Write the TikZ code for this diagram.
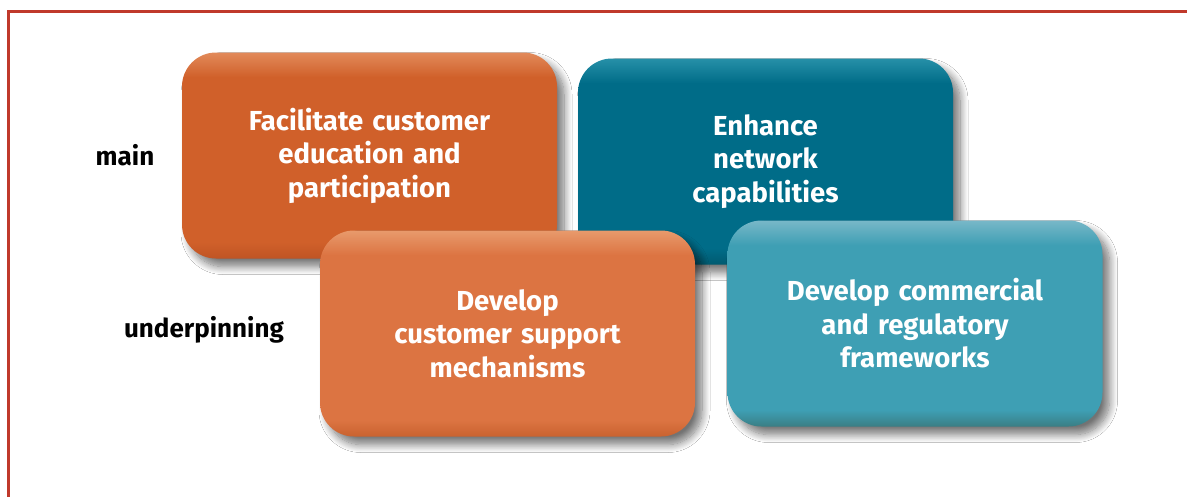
\documentclass[tikz,border=0pt]{standalone}
\usepackage{fontspec}
\setmainfont{Fira Sans}
\usetikzlibrary{shadows.blur}
\definecolor{frame}{HTML}{C0392B}
\definecolor{orA}{HTML}{D0602A}
\definecolor{orAl}{HTML}{E28A5A}
\definecolor{orAd}{HTML}{BF5424}
\definecolor{tlA}{HTML}{006C88}
\definecolor{tlAl}{HTML}{2690A8}
\definecolor{tlAd}{HTML}{005A70}
\definecolor{orB}{HTML}{DC7442}
\definecolor{orBl}{HTML}{E89A6C}
\definecolor{orBd}{HTML}{C9622F}
\definecolor{tlB}{HTML}{3E9FB4}
\definecolor{tlBl}{HTML}{78B8C8}
\definecolor{tlBd}{HTML}{3A7E84}
\pgfdeclareverticalshading{shOrA}{100bp}{color(0bp)=(orAd); color(25bp)=(orAd); color(29bp)=(orA); color(69bp)=(orA); color(75bp)=(orAl); color(100bp)=(orAl)}
\pgfdeclareverticalshading{shTlA}{100bp}{color(0bp)=(tlAd); color(25bp)=(tlAd); color(29bp)=(tlA); color(69bp)=(tlA); color(75bp)=(tlAl); color(100bp)=(tlAl)}
\pgfdeclareverticalshading{shOrB}{100bp}{color(0bp)=(orBd); color(25bp)=(orBd); color(29bp)=(orB); color(69bp)=(orB); color(75bp)=(orBl); color(100bp)=(orBl)}
\pgfdeclareverticalshading{shTlB}{100bp}{color(0bp)=(tlBd); color(25bp)=(tlBd); color(29bp)=(tlB); color(69bp)=(tlB); color(75bp)=(tlBl); color(100bp)=(tlBl)}
\tikzset{
  box/.style={rounded corners=34pt, minimum width=375pt, minimum height=206pt,
    inner sep=0pt, align=center, text=white, text width=350pt,
    font=\fontsize{27.5}{33.5}\selectfont\bfseries,
    blur shadow={shadow xshift=7pt, shadow yshift=-8pt, shadow blur steps=12,
      shadow blur radius=8pt, shadow opacity=55}},
  rowlabel/.style={font=\fontsize{26}{28}\selectfont\bfseries, text=black, inner sep=0pt}
}
\begin{document}
\begin{tikzpicture}[x=1pt, y=-1pt]
\useasboundingbox (0,0) rectangle (1187,496);
\fill[white] (0,0) rectangle (1187,496);
\draw[frame, line width=3pt] (8.5,497) -- (8.5,11) -- (1188,11);
\node[box, shading=shOrA] (edu) at (369.5,155.5) {Facilitate customer\\education and\\participation};
\node[box, shading=shTlA] (net) at (765.5,161.5) {Enhance\\network\\capabilities};
\node[box, shading=shOrB] (sup) at (507.5,333.5) {Develop\\customer support\\mechanisms};
\node[box, shading=shTlB] (reg) at (915,323.5) {Develop commercial\\and regulatory\\frameworks};
\node[rowlabel] (main) at (125,155) {main};
\node[rowlabel] (under) at (204,330) {underpinning};
\end{tikzpicture}
\end{document}
